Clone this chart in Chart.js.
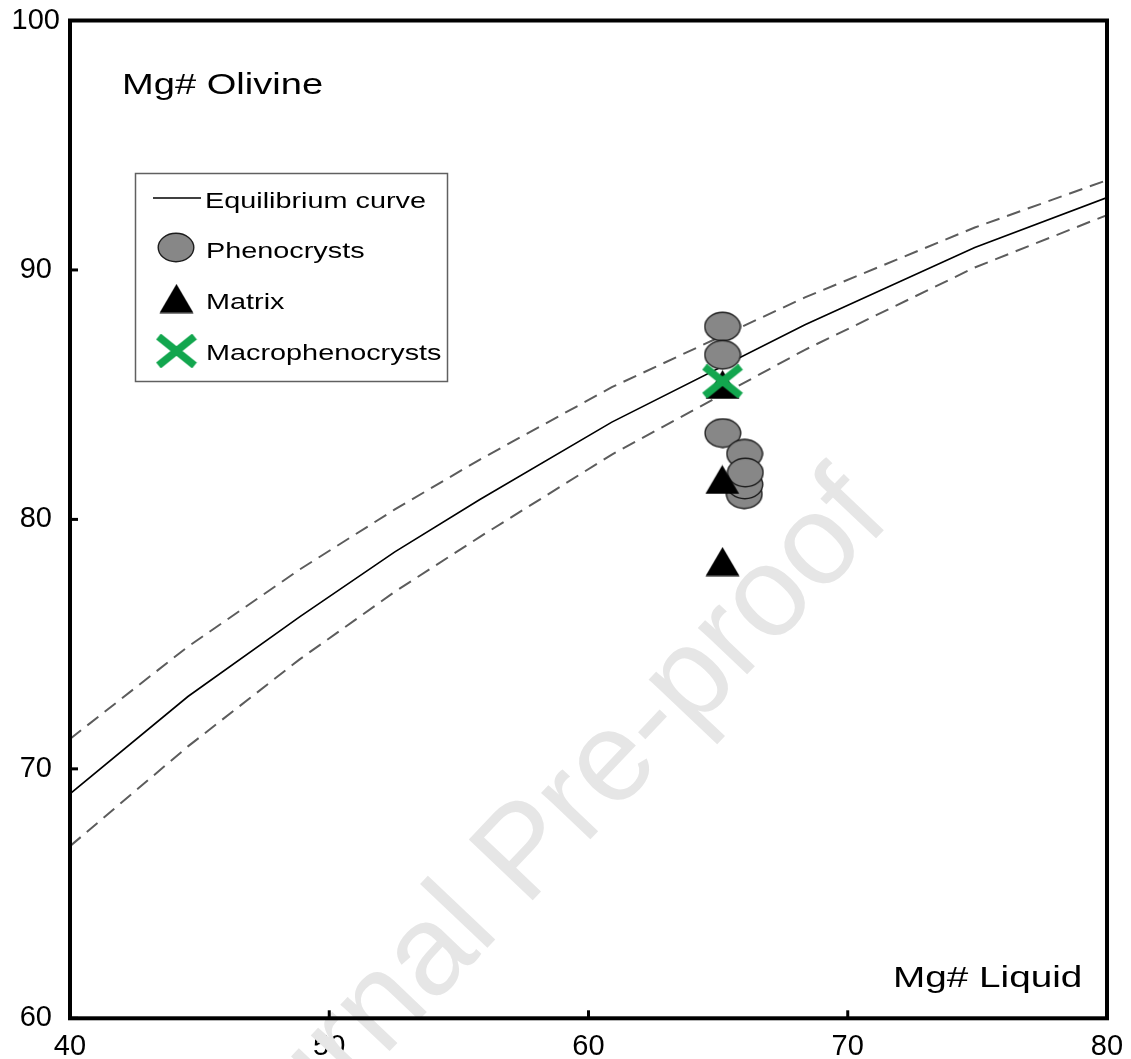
<!DOCTYPE html>
<html>
<head>
<meta charset="utf-8">
<script src="https://cdn.jsdelivr.net/npm/chart.js@4.4.0/dist/chart.umd.min.js"></script>
<style>
  html, body { margin: 0; padding: 0; background: #fff; }
  #wrap { width: 1131px; height: 1059px; }
</style>
</head>
<body>
<div id="wrap"><canvas id="c" width="1131" height="1059"></canvas></div>
<script>
// Olivine–liquid equilibrium curve (solid) and its upper / lower bounds (dashed)
const liquidMg     = [40, 44.55, 48.87, 52.53, 55.81, 60.90, 68.35, 74.90, 80];
const olivineEq    = [69.0, 72.9, 76.1, 78.7, 80.8, 83.9, 87.8, 90.9, 92.9];
const olivineUpper = [71.2, 74.9, 78.0, 80.4, 82.4, 85.3, 88.9, 91.7, 93.6];
const olivineLower = [66.9, 70.9, 74.4, 77.1, 79.3, 82.6, 86.8, 90.1, 92.2];

// Measured crystals: Mg# of host liquid vs Mg# of olivine
const phenoLiquid  = [65.17, 65.17, 65.18, 66.01, 66.03, 66.02, 66.05];
const phenoOlivine = [87.73, 86.60, 83.46, 81.01, 81.40, 82.63, 81.88];
const matrixLiquid  = [65.17, 65.16, 65.17];
const matrixOlivine = [85.41, 81.60, 78.31];
const macroLiquid  = [65.17];
const macroOlivine = [85.54];

const xTickValues = [40, 50, 60, 70, 80];
const yTickValues = [60, 70, 80, 90, 100];

const FONT = '"Liberation Sans", Arial, Helvetica, sans-serif';

function pairs(xs, ys) { return xs.map((x, i) => ({ x: x, y: ys[i] })); }

// Marker sprites
function makeEllipse() {
  const c = document.createElement('canvas'); c.width = 38; c.height = 31;
  const g = c.getContext('2d');
  g.beginPath(); g.ellipse(19, 15.5, 17.8, 14.2, 0, 0, Math.PI * 2);
  g.fillStyle = '#878787'; g.fill();
  g.lineWidth = 1.4; g.strokeStyle = '#1c1c1c'; g.stroke();
  return c;
}
function makeTriangle() {
  const c = document.createElement('canvas'); c.width = 35; c.height = 30;
  const g = c.getContext('2d');
  g.beginPath(); g.moveTo(17.5, 0.5); g.lineTo(34.5, 29.5); g.lineTo(0.5, 29.5); g.closePath();
  g.fillStyle = '#000'; g.fill();
  return c;
}
function makeCross() {
  const c = document.createElement('canvas'); c.width = 42; c.height = 34;
  const g = c.getContext('2d');
  g.strokeStyle = '#12a64e'; g.lineWidth = 7.5; g.lineCap = 'butt';
  g.beginPath(); g.moveTo(3, 2.5); g.lineTo(39, 31.5); g.moveTo(39, 2.5); g.lineTo(3, 31.5); g.stroke();
  return c;
}
const ellipseSprite = makeEllipse();
const triangleSprite = makeTriangle();
const crossSprite = makeCross();

function stretchedText(ctx, text, x, y, size, sx, color) {
  ctx.save();
  ctx.translate(x, y);
  ctx.scale(sx, 1);
  ctx.font = size + 'px ' + FONT;
  ctx.fillStyle = color || '#000';
  ctx.textAlign = 'left';
  ctx.textBaseline = 'alphabetic';
  ctx.fillText(text, 0, 0);
  ctx.restore();
}

// Faint diagonal watermark behind the data
const watermarkPlugin = {
  id: 'watermark',
  beforeDatasetsDraw(chart) {
    const ctx = chart.ctx;
    ctx.save();
    ctx.translate(212, 1238);
    ctx.rotate(-46.5 * Math.PI / 180);
    ctx.font = '128px ' + FONT;
    ctx.fillStyle = '#e6e6e6';
    ctx.textBaseline = 'alphabetic';
    ctx.fillText('Journal Pre-proof', 0, 0);
    ctx.restore();
  }
};

// Frame, inward ticks, axis captions and the boxed legend
const framePlugin = {
  id: 'frame',
  afterDatasetsDraw(chart) {
    const ctx = chart.ctx;
    const a = chart.chartArea;
    const xs = chart.scales.x, ys = chart.scales.y;
    ctx.save();
    ctx.strokeStyle = '#000';
    ctx.lineWidth = 4;
    ctx.strokeRect(a.left, a.top, a.right - a.left, a.bottom - a.top);
    ctx.lineWidth = 3;
    xTickValues.forEach(v => {
      const px = xs.getPixelForValue(v);
      ctx.beginPath(); ctx.moveTo(px, a.bottom); ctx.lineTo(px, a.bottom - 8); ctx.stroke();
    });
    yTickValues.forEach(v => {
      const py = ys.getPixelForValue(v);
      ctx.beginPath(); ctx.moveTo(a.left, py); ctx.lineTo(a.left + 8, py); ctx.stroke();
    });

    stretchedText(ctx, 'Mg# Olivine', 122, 94, 30, 1.27);
    stretchedText(ctx, 'Mg# Liquid', 893, 987, 30, 1.29);

    // legend box
    ctx.lineWidth = 1.5;
    ctx.strokeStyle = '#606060';
    ctx.strokeRect(135.5, 173.5, 312, 208);

    const ds = chart.data.datasets;
    ctx.strokeStyle = ds[0].borderColor;
    ctx.lineWidth = ds[0].borderWidth;
    ctx.beginPath(); ctx.moveTo(153, 198); ctx.lineTo(201, 198); ctx.stroke();
    const sprite = (img, cx, cy) => ctx.drawImage(img, cx - img.width / 2, cy - img.height / 2);
    sprite(ds[3].pointStyle, 176, 247.5);
    sprite(ds[4].pointStyle, 176.5, 298.5);
    sprite(ds[5].pointStyle, 176.5, 351);

    stretchedText(ctx, ds[0].label, 205, 207.5, 22, 1.31);
    stretchedText(ctx, ds[3].label, 206, 257.5, 22, 1.31);
    stretchedText(ctx, ds[4].label, 206, 309, 22, 1.31);
    stretchedText(ctx, ds[5].label, 206, 360, 22, 1.31);
    ctx.restore();
  }
};

const lineBase = { showLine: true, pointRadius: 0, pointHoverRadius: 0, tension: 0, fill: false };

new Chart(document.getElementById('c'), {
  type: 'scatter',
  data: {
    datasets: [
      Object.assign({ label: 'Equilibrium curve', data: pairs(liquidMg, olivineEq),
        borderColor: '#000', borderWidth: 1.6, order: 4 }, lineBase),
      Object.assign({ label: 'Upper bound', data: pairs(liquidMg, olivineUpper),
        borderColor: '#5c5c5c', borderWidth: 2, borderDash: [14, 8], order: 4 }, lineBase),
      Object.assign({ label: 'Lower bound', data: pairs(liquidMg, olivineLower),
        borderColor: '#5c5c5c', borderWidth: 2, borderDash: [14, 8], order: 4 }, lineBase),
      { label: 'Phenocrysts', data: pairs(phenoLiquid, phenoOlivine),
        pointStyle: ellipseSprite, pointRadius: 16, order: 3 },
      { label: 'Matrix', data: pairs(matrixLiquid, matrixOlivine),
        pointStyle: triangleSprite, pointRadius: 16, order: 2 },
      { label: 'Macrophenocrysts', data: pairs(macroLiquid, macroOlivine),
        pointStyle: crossSprite, pointRadius: 18, order: 1 }
    ]
  },
  options: {
    responsive: false,
    animation: false,
    events: [],
    layout: { padding: { top: 20.5, right: 24, left: 0, bottom: 0 } },
    plugins: { legend: { display: false }, tooltip: { enabled: false } },
    scales: {
      x: {
        type: 'linear', min: 40, max: 80,
        afterBuildTicks: s => { s.ticks = xTickValues.map(v => ({ value: v })); },
        afterFit: s => { s.height = 1059 - 1018.3; s.paddingLeft = 0; s.paddingRight = 0; },
        grid: { display: false, drawTicks: false },
        border: { display: false },
        ticks: { color: '#000', padding: 11, maxRotation: 0, font: { family: FONT, size: 29 } }
      },
      y: {
        type: 'linear', min: 60, max: 100,
        afterBuildTicks: s => { s.ticks = yTickValues.map(v => ({ value: v })); },
        afterFit: s => { s.width = 70; s.paddingTop = 0; s.paddingBottom = 0; },
        grid: { display: false, drawTicks: false },
        border: { display: false },
        ticks: { color: '#000', padding: 10, crossAlign: 'center', font: { family: FONT, size: 29 } }
      }
    }
  },
  plugins: [watermarkPlugin, framePlugin]
});
</script>
</body>
</html>
